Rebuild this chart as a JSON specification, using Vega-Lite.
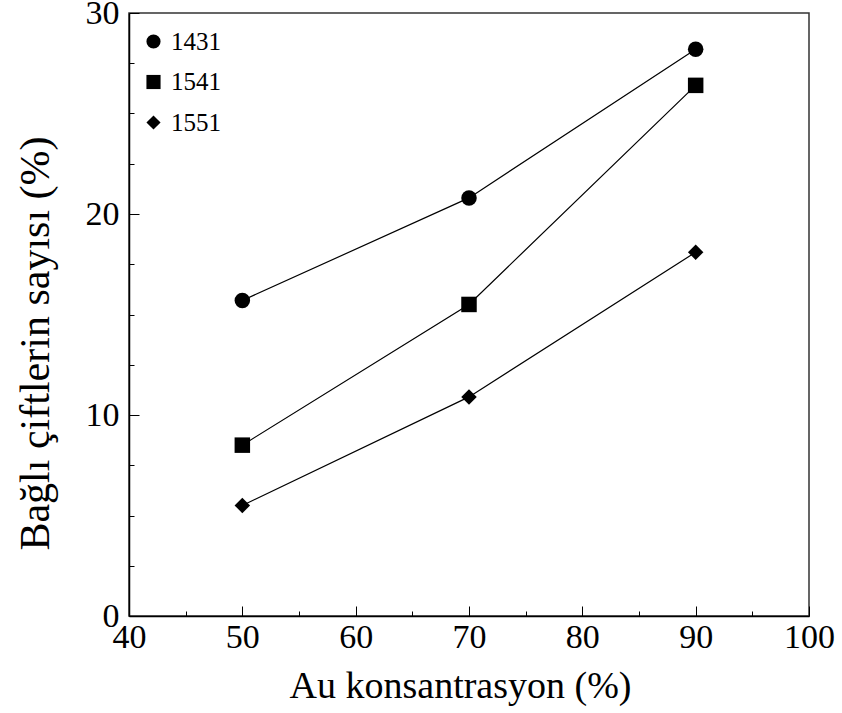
{
  "$schema": "https://vega.github.io/schema/vega-lite/v6.json",
  "width": 680,
  "height": 603,
  "autosize": "none",
  "padding": {"left": 129, "top": 13, "right": 33, "bottom": 97},
  "config": {
    "font": "Liberation Serif",
    "view": {"stroke": "#333", "strokeWidth": 1.5},
    "background": "white"
  },
  "data": {
    "values": [
      {"x": 50, "y": 15.7, "s": "1431"},
      {"x": 70, "y": 20.8, "s": "1431"},
      {"x": 90, "y": 28.2, "s": "1431"},
      {"x": 50, "y": 8.5, "s": "1541"},
      {"x": 70, "y": 15.5, "s": "1541"},
      {"x": 90, "y": 26.4, "s": "1541"},
      {"x": 50, "y": 5.5, "s": "1551"},
      {"x": 70, "y": 10.9, "s": "1551"},
      {"x": 90, "y": 18.1, "s": "1551"}
    ]
  },
  "layer": [
    {
      "mark": {"type": "line", "color": "black", "strokeWidth": 1.2},
      "encoding": {
        "x": {"field": "x", "type": "quantitative", "scale": {"domain": [40, 100], "nice": false},
          "axis": {"orient": "bottom", "values": [40, 50, 60, 70, 80, 90, 100], "tickSize": -10, "tickColor": "black", "domainColor": "black", "domainWidth": 1.5,
            "labelFont": "Liberation Serif", "labelFontSize": 34, "labelColor": "black", "labelPadding": 14, "labelFlush": false,
            "grid": false, "title": "Au konsantrasyon (%)", "titleFont": "Liberation Serif", "titleFontSize": 38, "titleFontWeight": "normal", "titleColor": "black", "titlePadding": 13, "titleX": 331}},
        "y": {"field": "y", "type": "quantitative", "scale": {"domain": [0, 30], "nice": false},
          "axis": {"orient": "left", "values": [0, 10, 20, 30], "tickSize": -10, "tickColor": "black", "domainColor": "black", "domainWidth": 1.5,
            "labelFont": "Liberation Serif", "labelFontSize": 34, "labelColor": "black", "labelPadding": 20, "labelFlush": false,
            "grid": false, "title": "Bağlı çiftlerin sayısı (%)", "titleFont": "Liberation Serif", "titleFontSize": 42, "titleFontWeight": "normal", "titleColor": "black", "titlePadding": 28, "titleY": 330}},
        "detail": {"field": "s"}
      }
    },
    {
      "mark": {"type": "point", "filled": true, "color": "black", "opacity": 1, "size": 240},
      "encoding": {
        "x": {"field": "x", "type": "quantitative",
          "axis": {"orient": "bottom", "values": [45, 55, 65, 75, 85, 95], "tickSize": -5, "tickColor": "black", "domain": false, "labels": false, "grid": false, "title": null}},
        "y": {"field": "y", "type": "quantitative",
          "axis": {"orient": "left", "values": [2.5, 5, 7.5, 12.5, 15, 17.5, 22.5, 25, 27.5], "tickSize": -5, "tickColor": "black", "domain": false, "labels": false, "grid": false, "title": null}},
        "shape": {"field": "s", "type": "nominal",
          "scale": {"domain": ["1431", "1541", "1551"], "range": ["circle", "square", "diamond"]},
          "legend": {"orient": "none", "legendX": 12, "legendY": 16, "title": null, "symbolFillColor": "black", "symbolStrokeColor": "black", "symbolSize": 200,
            "labelFont": "Liberation Serif", "labelFontSize": 25, "labelColor": "black", "rowPadding": 14.5, "labelOffset": 5}}
      }
    }
  ],
  "resolve": {"axis": {"x": "independent", "y": "independent"}}
}
